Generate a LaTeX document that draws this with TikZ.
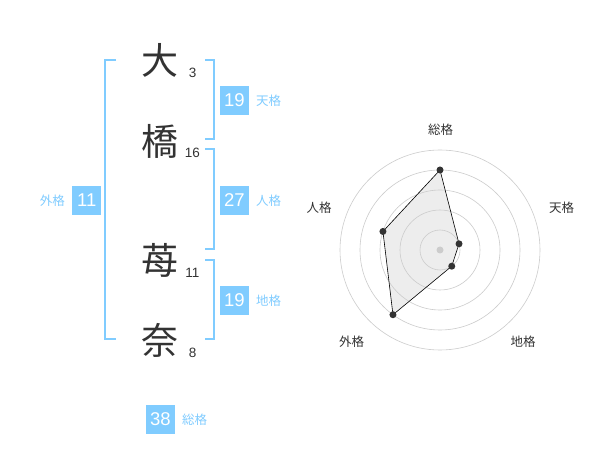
\documentclass[tikz,border=0pt]{standalone}
\usepackage{fontspec}
\usetikzlibrary{positioning}
\setmainfont{Liberation Sans}
\newfontfamily\jpfont{Noto Sans CJK JP}
\definecolor{kakublue}{HTML}{80CCFF}
\definecolor{inkgray}{HTML}{333333}
\tikzset{
  kanji/.style={text=inkgray, font=\jpfont\fontsize{37}{37}\selectfont, inner sep=0pt},
  strokes/.style={text=inkgray, font=\fontsize{13.5}{13.5}\selectfont, inner sep=0pt},
  kakubox/.style={fill=kakublue, text=white, minimum size=28.7pt, inner sep=0pt, font=\fontsize{18.5}{18.5}\selectfont},
  kakulabel/.style={text=kakublue, font=\jpfont\fontsize{12.5}{12.5}\selectfont, inner sep=0pt},
  bracket/.style={draw=kakublue, line width=2pt},
  ring/.style={draw=black!20, line width=0.6pt},
  axislabel/.style={text=inkgray, font=\jpfont\fontsize{12.5}{12.5}\selectfont, inner sep=0pt},
  dot/.style={circle, fill=inkgray, minimum size=7pt, inner sep=0pt}
}
\begin{document}
\begin{tikzpicture}[x=1pt,y=-1pt]
\useasboundingbox[fill=white] (0,0) rectangle (600,470);

% name
\node[kanji] (dai) at (160,60) {大};
\node[kanji] (hashi) at (160,141) {橋};
\node[kanji] (ichigo) at (160,260) {苺};
\node[kanji] (na) at (160,340) {奈};
\node[strokes] (s1) at (192.7,72.7) {3};
\node[strokes] (s2) at (192.3,153) {16};
\node[strokes] (s3) at (192.3,272.7) {11};
\node[strokes] (s4) at (192.7,352.7) {8};

% brackets
\draw[bracket] (116,60) -- (105,60) -- (105,339) -- (116,339);
\draw[bracket] (205,60) -- (214,60) -- (214,139) -- (205,139);
\draw[bracket] (205,149) -- (214,149) -- (214,249) -- (205,249);
\draw[bracket] (205,260) -- (214,260) -- (214,339) -- (205,339);

% kaku
\node[kakubox] (ten) at (234.3,100.3) {19};
\node[kakulabel, right=7pt of ten] {天格};
\node[kakubox] (jin) at (234.3,200.3) {27};
\node[kakulabel, right=7pt of jin] {人格};
\node[kakubox] (chi) at (234.3,300.3) {19};
\node[kakulabel, right=7pt of chi] {地格};
\node[kakubox] (gai) at (86.7,200.3) {11};
\node[kakulabel, left=7pt of gai] {外格};
\node[kakubox] (sou) at (160.3,419.3) {38};
\node[kakulabel, right=7pt of sou] {総格};

% radar
\begin{scope}[shift={(440,250)}, y=1pt]
\fill[black!7] (90:80) -- (18:20) -- (-54:20) -- (234:80) -- (162:60) -- cycle;
\foreach \r in {20,40,60,80,100}
  \draw[ring] (0,0) circle[radius=\r];
\fill[black!20] (0,0) circle[radius=3.5];
\draw[black, line width=0.6pt] (90:80) -- (18:20) -- (-54:20) -- (234:80) -- (162:60) -- cycle;
\node[dot] (psou) at (90:80) {};
\node[dot] (pten) at (18:20) {};
\node[dot] (pchi) at (-54:20) {};
\node[dot] (pgai) at (234:80) {};
\node[dot] (pjin) at (162:60) {};
\node[axislabel] (lsou) at (0.7,120) {総格};
\node[axislabel] (lten) at (121.7,42) {天格};
\node[axislabel] (lchi) at (83,-92) {地格};
\node[axislabel] (lgai) at (-88.3,-92) {外格};
\node[axislabel] (ljin) at (-121,42) {人格};
\end{scope}
\end{tikzpicture}
\end{document}
